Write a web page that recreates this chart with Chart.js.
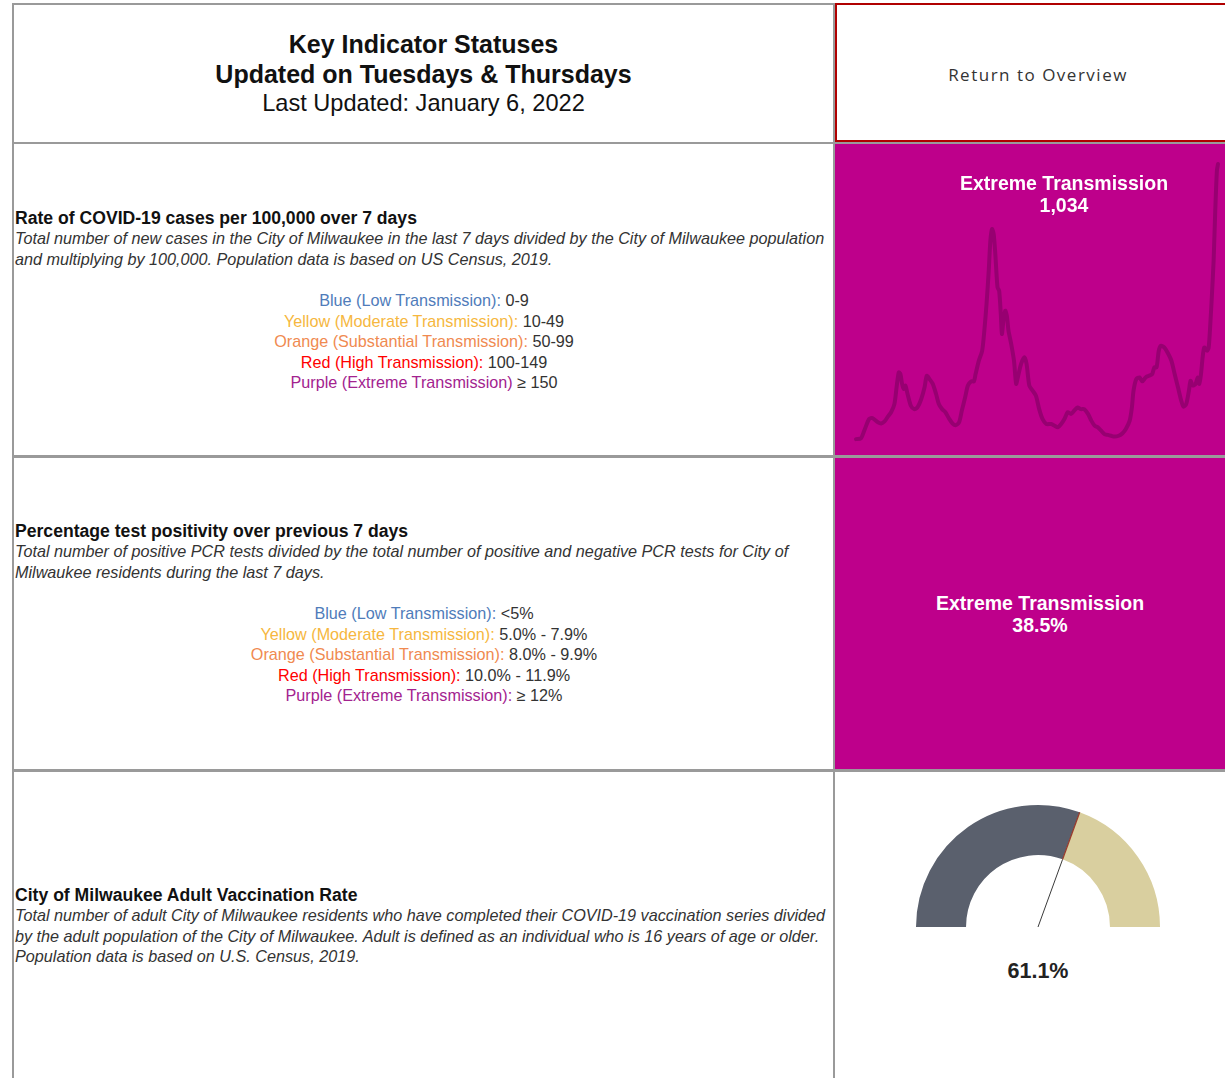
<!DOCTYPE html>
<html>
<head>
<meta charset="utf-8">
<script src="https://cdn.jsdelivr.net/npm/chart.js@4"></script>
<style>
  body { margin: 0; width: 1225px; height: 1078px; background: #fff; overflow: hidden; position: relative;
         font-family: "Liberation Sans", Arial, sans-serif; color: #222; }
  .abs { position: absolute; }
  .hline { position: absolute; background: #9a9a9a; }
  .vline { position: absolute; background: #9a9a9a; }
  .purple { position: absolute; background: #be008b; }
  .header { position: absolute; left: 14px; width: 819px; text-align: center; font-size: 23.6px; line-height: 29.5px; color: #111; }
  .header .b { font-weight: bold; font-size: 25px; }
  .block { position: absolute; left: 15px; width: 818px; font-size: 16.2px; line-height: 20.6px; }
  .block .t { font-weight: bold; font-size: 17.6px; color: #111; }
  .block .d { font-style: italic; color: #333; }
  .block .lg { text-align: center; color: #333; }
  .status { position: absolute; width: 300px; text-align: center; color: #fff; font-weight: bold; font-size: 19.5px; line-height: 22px; }
</style>
</head>
<body>

<!-- grid lines -->
<div class="hline" style="left:12px; top:3px; width:823px; height:2px;"></div>
<div class="vline" style="left:12px; top:3px; width:2px; height:1075px;"></div>
<div class="vline" style="left:833px; top:3px; width:2px; height:1075px;"></div>
<div class="hline" style="left:12px; top:142px; width:1213px; height:2px;"></div>
<div class="hline" style="left:12px; top:455px; width:1213px; height:3px;"></div>
<div class="hline" style="left:12px; top:769px; width:1213px; height:3px;"></div>

<!-- return button -->
<div class="abs" style="left:835px; top:3px; width:390px; height:139px; box-sizing:border-box; border:2px solid #b00000; border-right:none;"></div>
<div class="abs" style="left:888px; top:63px; width:300px; text-align:center; font-family:'Open Sans', sans-serif; font-size:17px; letter-spacing:1.5px; color:#333; line-height:24px;">Return to Overview</div>

<!-- header -->
<div class="header" style="top:30px;">
  <div class="b">Key Indicator Statuses</div>
  <div class="b">Updated on Tuesdays &amp; Thursdays</div>
  <div>Last Updated: January 6, 2022</div>
</div>

<!-- section 1 -->
<div class="block" style="top:207.7px;">
  <div class="t">Rate of COVID-19 cases per 100,000 over 7 days</div>
  <div class="d">Total number of new cases in the City of Milwaukee in the last 7 days divided by the City of Milwaukee population and multiplying by 100,000. Population data is based on US Census, 2019.</div>
  <div>&nbsp;</div>
  <div class="lg"><span style="color:#4f7cba">Blue (Low Transmission):</span> 0-9</div>
  <div class="lg"><span style="color:#f6b740">Yellow (Moderate Transmission):</span> 10-49</div>
  <div class="lg"><span style="color:#f08a50">Orange (Substantial Transmission):</span> 50-99</div>
  <div class="lg"><span style="color:#ff0000">Red (High Transmission):</span> 100-149</div>
  <div class="lg"><span style="color:#a3238f">Purple (Extreme Transmission)</span> ≥ 150</div>
</div>

<!-- section 2 -->
<div class="block" style="top:520.7px;">
  <div class="t">Percentage test positivity over previous 7 days</div>
  <div class="d">Total number of positive PCR tests divided by the total number of positive and negative PCR tests for City of Milwaukee residents during the last 7 days.</div>
  <div>&nbsp;</div>
  <div class="lg"><span style="color:#4f7cba">Blue (Low Transmission):</span> &lt;5%</div>
  <div class="lg"><span style="color:#f6b740">Yellow (Moderate Transmission):</span> 5.0% - 7.9%</div>
  <div class="lg"><span style="color:#f08a50">Orange (Substantial Transmission):</span> 8.0% - 9.9%</div>
  <div class="lg"><span style="color:#ff0000">Red (High Transmission):</span> 10.0% - 11.9%</div>
  <div class="lg"><span style="color:#a3238f">Purple (Extreme Transmission):</span> ≥ 12%</div>
</div>

<!-- section 3 -->
<div class="block" style="top:884.7px;">
  <div class="t">City of Milwaukee Adult Vaccination Rate</div>
  <div class="d">Total number of adult City of Milwaukee residents who have completed their COVID-19 vaccination series divided by the adult population of the City of Milwaukee. Adult is defined as an individual who is 16 years of age or older. Population data is based on U.S. Census, 2019.</div>
</div>

<!-- status boxes -->
<div class="purple" style="left:835px; top:144px; width:390px; height:311px;"></div>
<div class="purple" style="left:835px; top:458px; width:390px; height:311px;"></div>

<div class="abs" style="left:836px; top:144px; width:389px; height:311px;"><canvas id="caseChart"></canvas></div>
<div class="status" style="top:172px; left:914px;">Extreme Transmission<br>1,034</div>
<div class="status" style="top:592px; left:890px;">Extreme Transmission<br>38.5%</div>

<div class="abs" style="left:908px; top:797px; width:260px; height:140px;"><canvas id="vaxChart"></canvas></div>
<div class="abs" style="left:936px; top:959px; width:204px; text-align:center; font-weight:bold; font-size:21.5px; color:#222;">61.1%</div>

<script>
// 7-day case rate per 100,000 (days since start of series)
const days = [0, 9, 15, 24, 30, 40, 46, 52, 58, 64, 70, 74, 78, 81, 84, 87, 90, 94, 100, 106,
  112, 119, 125, 129, 134, 140, 146, 151, 157, 163, 170, 176, 182, 188, 193, 199, 204, 210, 215, 218,
  224, 230, 234, 238, 242, 245, 248, 251, 254, 258, 261, 264, 266, 269, 272, 275, 278, 283, 288, 292,
  295, 301, 307, 311, 316, 322, 328, 334, 340, 347, 356, 362, 368, 374, 380, 386, 392, 398, 404, 410,
  416, 423, 429, 435, 441, 447, 453, 459, 465, 471, 479, 486, 492, 499, 503, 506, 511, 517, 522, 528,
  534, 540, 544, 548, 552, 556, 562, 568, 575, 581, 587, 593, 597, 602, 607, 610, 614, 619, 623, 626,
  629, 632, 635, 640, 643, 646, 649, 652, 655, 658, 660];
const rates = [53, 56, 83, 125, 128, 113, 109, 116, 133, 149, 178, 238, 291, 285, 250, 232, 244, 214, 172, 160,
  166, 196, 238, 279, 267, 250, 214, 178, 160, 149, 125, 109, 103, 113, 155, 202, 244, 259, 259, 285,
  333, 368, 440, 535, 654, 761, 802, 784, 713, 594, 582, 499, 428, 481, 511, 493, 440, 392, 333, 250,
  273, 321, 345, 321, 244, 226, 208, 160, 125, 107, 107, 101, 95, 107, 125, 149, 143, 155, 166, 160,
  160, 143, 119, 101, 95, 83, 71, 68, 65, 62, 65, 74, 89, 119, 166, 226, 267, 273, 259, 273,
  279, 285, 309, 309, 368, 386, 380, 362, 333, 285, 238, 190, 169, 178, 226, 261, 244, 250, 273, 250,
  285, 345, 380, 368, 380, 464, 570, 689, 868, 1010, 1034];

// vaccination gauge
const vaxLabels = ['Completed series', 'Not completed'];
const vaxValues = [61.1, 38.9];

new Chart(document.getElementById('caseChart'), {
  type: 'line',
  data: {
    datasets: [{
      data: days.map((d, i) => ({ x: d, y: rates[i] })),
      borderColor: '#970071',
      borderWidth: 4,
      borderJoinStyle: 'round',
      borderCapStyle: 'round',
      tension: 0.25,
      pointRadius: 0,
      clip: false
    }]
  },
  options: {
    responsive: true,
    maintainAspectRatio: false,
    animation: false,
    layout: { padding: { left: 20, right: 7, top: 20, bottom: 1 } },
    plugins: { legend: { display: false }, tooltip: { enabled: false } },
    scales: {
      x: { type: 'linear', min: 0, max: Math.max(...days), display: false },
      y: { min: 0, max: Math.max(...rates), display: false }
    }
  }
});

// needle at the boundary between the two gauge slices
const needle = {
  id: 'needle',
  afterDatasetsDraw(chart) {
    const arc = chart.getDatasetMeta(0).data[0];
    const { x, y, endAngle, innerRadius, outerRadius } = arc.getProps(['x', 'y', 'endAngle', 'innerRadius', 'outerRadius'], true);
    const ctx = chart.ctx;
    const c = Math.cos(endAngle), s = Math.sin(endAngle);
    ctx.save();
    ctx.lineWidth = 1;
    ctx.strokeStyle = '#3a3a3a';
    ctx.beginPath();
    ctx.moveTo(x, y);
    ctx.lineTo(x + c * innerRadius, y + s * innerRadius);
    ctx.stroke();
    ctx.strokeStyle = '#9a3a2c';
    ctx.lineWidth = 1.3;
    ctx.beginPath();
    ctx.moveTo(x + c * innerRadius, y + s * innerRadius);
    ctx.lineTo(x + c * outerRadius, y + s * outerRadius);
    ctx.stroke();
    ctx.restore();
  }
};

new Chart(document.getElementById('vaxChart'), {
  type: 'doughnut',
  data: {
    labels: vaxLabels,
    datasets: [{
      data: vaxValues,
      backgroundColor: ['#5a606d', '#d9cf9f'],
      borderWidth: 0
    }]
  },
  options: {
    responsive: true,
    maintainAspectRatio: false,
    animation: false,
    rotation: -90,
    circumference: 180,
    cutout: '59%',
    layout: { padding: { left: 8, right: 8, top: 8, bottom: 10 } },
    plugins: { legend: { display: false }, tooltip: { enabled: false } }
  },
  plugins: [needle]
});
</script>
</body>
</html>
